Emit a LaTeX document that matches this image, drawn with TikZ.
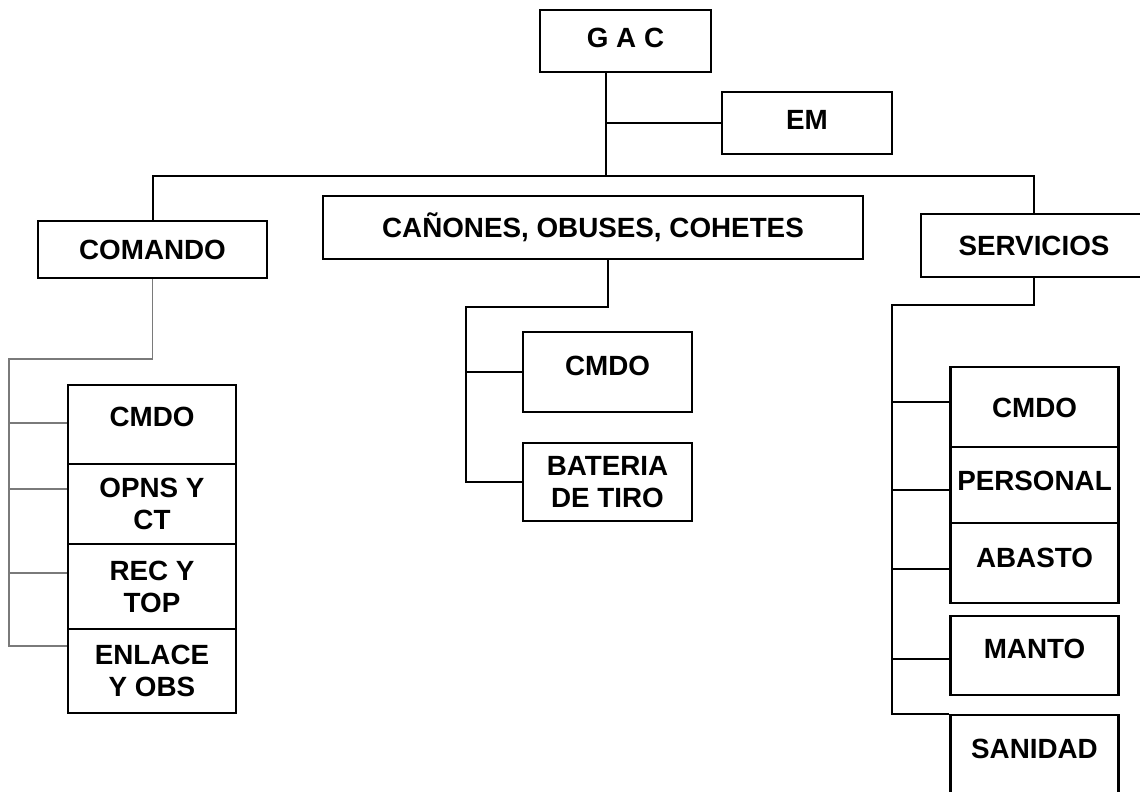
\documentclass[tikz,border=0pt]{standalone}
\usepackage{fontspec}
\setmainfont{Liberation Sans}
\usepackage{xcolor}
\usepackage{tikz}
\definecolor{linegray}{HTML}{7A7A7A}
\newcommand{\lbl}{\bfseries\fontsize{13.9}{16}\selectfont}

\begin{document}
\begin{tikzpicture}[x=0.5pt,y=-0.5pt,
  unit/.style={draw,line width=1.1pt,fill=white,inner sep=0pt,font=\lbl,
    text height=10pt,text depth=0pt},
  twoline/.style={draw,line width=1.1pt,fill=white,inner sep=0pt,font=\lbl,
    align=center},
  lift/.style={text depth=#1},
  link/.style={line width=1pt},
  twig/.style={line width=0.6pt},
  grayline/.style={line width=0.65pt,linegray}]
  \useasboundingbox (0,0) rectangle (1140,792);
  \clip (0,0) rectangle (1140,792);
  % top level
  \node[unit,minimum width=85.5pt,minimum height=31pt,lift=3pt] (gac) at (625.5,41) {G A C};
  \node[unit,minimum width=85pt,minimum height=31pt,lift=4pt] (em) at (807,123) {EM};
  \node[unit,minimum width=114.5pt,minimum height=28.5pt] (comando) at (152.5,249.5) {COMANDO};
  \node[unit,minimum width=270pt,minimum height=31.5pt] (canones) at (593,227.5) {CAÑONES, OBUSES, COHETES};
  \node[unit,minimum width=113pt,minimum height=31.5pt] (servicios) at (1034,245.5) {SERVICIOS};
  % comando
  \node[unit,minimum width=84pt,minimum height=39.5pt,lift=8.5pt] (lcmdo) at (152,424.5) {CMDO};
  \node[twoline,minimum width=84pt,minimum height=40pt] (lopns) at (152,504) {OPNS Y\\CT};
  \node[twoline,minimum width=84pt,minimum height=42.5pt] (lrec) at (152,586.5) {REC Y\\TOP};
  \node[twoline,minimum width=84pt,minimum height=42pt] (lenl) at (152,671) {ENLACE\\Y OBS};
  % canones
  \node[unit,minimum width=84.5pt,minimum height=40pt,lift=7pt] (ccmdo) at (607.5,372) {CMDO};
  \node[twoline,minimum width=84.5pt,minimum height=39pt] (cbat) at (607.5,482) {BATERIA\\DE TIRO};
  % servicios
  \node[unit,minimum width=84pt,minimum height=40pt] (rcmdo) at (1034.5,407) {CMDO};
  \node[unit,minimum width=84pt,minimum height=38pt,lift=5pt] (rpers) at (1034.5,485) {PERSONAL};
  \node[unit,minimum width=84pt,minimum height=40pt,lift=6pt] (rabas) at (1034.5,563) {ABASTO};
  \node[unit,minimum width=84pt,minimum height=39.5pt,lift=7pt] (rmanto) at (1034.5,655.5) {MANTO};
  \node[unit,minimum width=84pt,minimum height=40pt,lift=7pt] (rsan) at (1034.5,755) {SANIDAD};

  \coordinate (trunk) at (606,176);
  \coordinate (busR) at (1034,176);
  \coordinate (lspine) at (9,359);
  \coordinate (cspine) at (466,307);
  \coordinate (rspine) at (892,305);
  \coordinate (lenlin) at ([yshift=12.5pt]lenl.west);

  % main lines
  \draw[link] (gac.south -| trunk) -- (trunk);
  \draw[link] (em.west) -- (em.west -| trunk);
  \draw[link] (comando.north) |- (busR) -- (servicios.north -| busR);
  \draw[link] (canones.south -| ccmdo) |- (cspine) -- (cspine |- cbat.west) -- (cbat.west);
  \draw[link] (ccmdo.west) -- (ccmdo.west -| cspine);
  \draw[link] (servicios.south -| busR) |- (rspine) -- (rspine |- rsan.north west) -- (rsan.north west);
  % servicios branches
  \draw[twig] ([yshift=2.5pt]rcmdo.west) -- ([yshift=2.5pt]rcmdo.west -| rspine);
  \draw[twig] ([yshift=-2.5pt]rpers.west) -- ([yshift=-2.5pt]rpers.west -| rspine);
  \draw[twig] ([yshift=-3pt]rabas.west) -- ([yshift=-3pt]rabas.west -| rspine);
  \draw[twig] ([yshift=-1.75pt]rmanto.west) -- ([yshift=-1.75pt]rmanto.west -| rspine);
  % comando branches
  \draw[grayline] (comando.south) |- (lspine) -- (lspine |- lenlin) -- (lenlin);
  \draw[grayline] ([yshift=0.75pt]lcmdo.west) -- ([yshift=0.75pt]lcmdo.west -| lspine);
  \draw[grayline] ([yshift=7.5pt]lopns.west) -- ([yshift=7.5pt]lopns.west -| lspine);
  \draw[grayline] ([yshift=6.75pt]lrec.west) -- ([yshift=6.75pt]lrec.west -| lspine);
\end{tikzpicture}
\end{document}
